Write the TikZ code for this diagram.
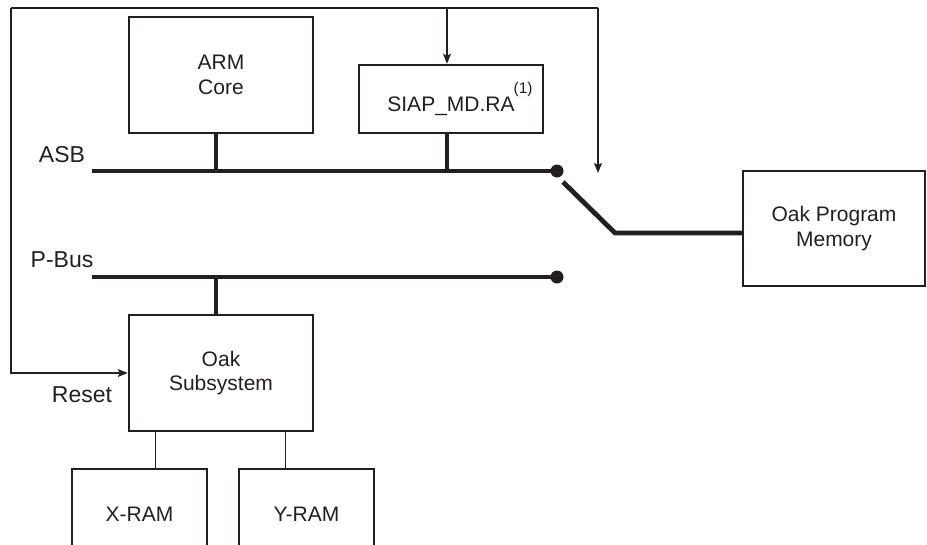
\documentclass[tikz,border=0pt]{standalone}
\usepackage{fontspec}
\setmainfont{Liberation Sans}
\usetikzlibrary{arrows.meta}
\definecolor{ink}{RGB}{35,31,32}
\begin{document}
\begin{tikzpicture}[x=1pt,y=-1pt,
  every node/.style={text=ink},
  box/.style={draw=ink,line width=2.5pt,inner sep=0pt,align=center,
    font=\fontsize{21}{24.5}\selectfont},
  bus/.style={draw=ink,line width=4.8pt},
  thinline/.style={draw=ink,line width=1pt},
  sig/.style={draw=ink,line width=1.2pt,-{Stealth[length=10pt,width=8pt,inset=2pt]}},
  dot/.style={circle,fill=ink,inner sep=0pt,minimum size=13pt},
  lbl/.style={font=\fontsize{23}{26}\selectfont,anchor=base,inner sep=0pt}]
\useasboundingbox (0,0) rectangle (927,544);
\clip (0,0) rectangle (927,544);

% boxes
\node[box,minimum width=184pt,minimum height=116pt] (arm) at (221,75) {ARM\\Core};
\node[box,minimum width=184pt,minimum height=68pt] (siap) at (451,99)
  {SIAP\_MD.RA\rlap{\kern-1pt\raisebox{17.5pt}{\fontsize{15.5}{17}\selectfont(1)}}};
\node[box,minimum width=182pt,minimum height=115pt] (opm) at (834,228.5) {Oak Program\\Memory};
\node[box,minimum width=184pt,minimum height=116pt] (oak) at (221,373) {Oak\\Subsystem};
\node[box,minimum width=135pt,minimum height=90pt] (xram) at (139.5,514) {X-RAM};
\node[box,minimum width=135pt,minimum height=90pt] (yram) at (306.5,514) {Y-RAM};

% labels
\node[lbl] (asblbl) at (62,162) {ASB};
\node[lbl] (pbuslbl) at (62,267) {P-Bus};
\node[lbl] (resetlbl) at (82,402) {Reset};

% buses
\coordinate (asbL) at (92,171);
\node[dot] (asbdot) at (557,171) {};
\coordinate (pbusL) at (92,277);
\node[dot] (pbusdot) at (557,277) {};
\draw[bus] (asbL) -- (asbdot.center);
\draw[bus] (pbusL) -- (pbusdot.center);

\coordinate (armtap) at (216,171);
\coordinate (siaptap) at (447,171);
\coordinate (oaktap) at (216,277);
\draw[bus] (armtap) -- (armtap |- arm.south);
\draw[bus] (siaptap) -- (siaptap |- siap.south);
\draw[bus] (oaktap) -- (oaktap |- oak.north);

% switch
\coordinate (swA) at (563,182);
\coordinate (swB) at (615,233);
\draw[bus] (swA) -- (swB) -- (swB -| opm.west);

% RAM links
\coordinate (xtap) at (155,431);
\coordinate (ytap) at (285,431);
\draw[thinline] (xtap |- oak.south) -- (xtap |- xram.north);
\draw[thinline] (ytap |- oak.south) -- (ytap |- yram.north);

% feedback / reset
\coordinate (fbL) at (11,8);
\coordinate (fbR) at (598,8);
\coordinate (fbEnd) at (598,173);
\coordinate (fbS) at (447,8);
\draw[draw=ink,line width=1.2pt] (fbL) -- (fbR);
\draw[sig] (fbL) |- (oak.west);
\draw[sig] (fbR) -- (fbEnd);
\draw[sig] (fbS) -- (fbS |- siap.north);
\end{tikzpicture}
\end{document}
